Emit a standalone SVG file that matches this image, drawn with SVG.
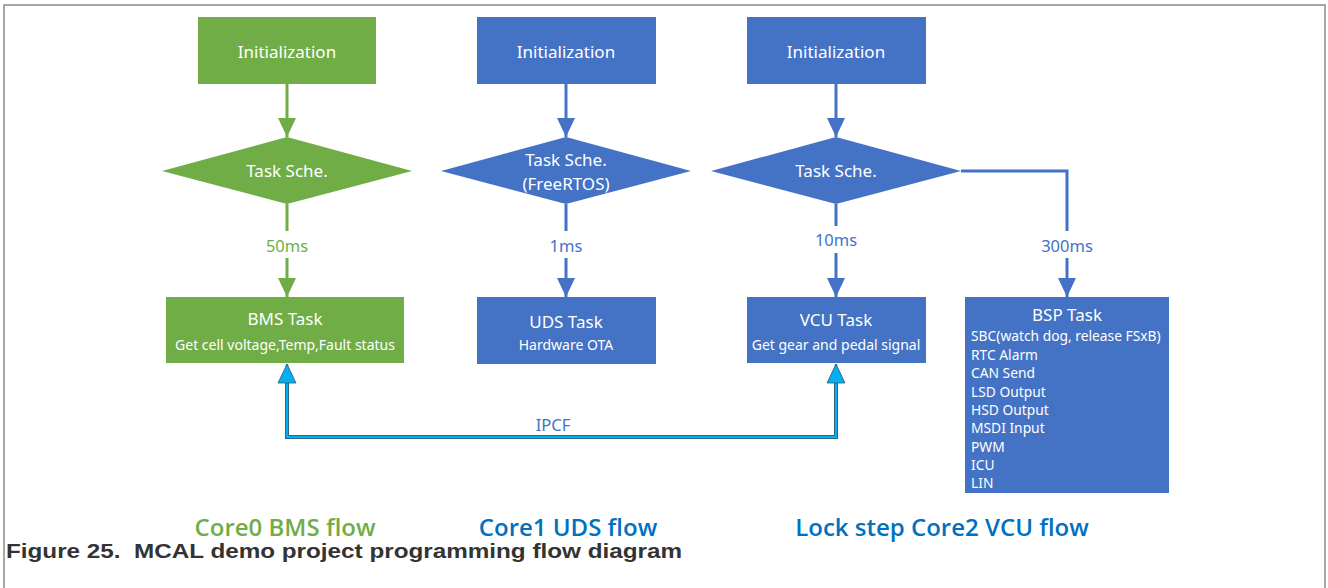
<svg xmlns="http://www.w3.org/2000/svg" width="1328" height="588" viewBox="0 0 1328 588">
<defs>
<style>
.t{font-family:"Noto Sans","Open Sans",sans-serif;fill:#fff;text-anchor:middle}
.big{font-size:17px}
.sm{font-size:14px}
.lbl{font-family:"Noto Sans","Open Sans",sans-serif;font-size:16.5px;text-anchor:middle}
.g{fill:#70AD47}
.b{fill:#4472C4}
.gs{stroke:#70AD47;stroke-width:3;fill:none}
.bs{stroke:#4472C4;stroke-width:3;fill:none}
.flow{font-family:"Open Sans","Noto Sans",sans-serif;font-size:24px;font-weight:600;text-anchor:middle}
</style>
<marker id="ag" viewBox="0 0 19 18" markerWidth="19" markerHeight="18" refX="19" refY="9" orient="auto" markerUnits="userSpaceOnUse"><path d="M0,0 L19,9 L0,18 z" fill="#70AD47"/></marker>
<marker id="ab" viewBox="0 0 19 18" markerWidth="19" markerHeight="18" refX="19" refY="9" orient="auto" markerUnits="userSpaceOnUse"><path d="M0,0 L19,9 L0,18 z" fill="#4472C4"/></marker>
<marker id="ac" viewBox="-1 -1 21 20" markerWidth="21" markerHeight="20" refX="19" refY="9" orient="auto-start-reverse" markerUnits="userSpaceOnUse"><path d="M0,0 L19,9 L0,18 z" fill="#00B0F0" stroke="#3a5566" stroke-width="0.8"/></marker>
</defs>
<rect x="4" y="5" width="1321" height="620" fill="#fff" stroke="#8a8a8a" stroke-width="1.5"/>

<g id="connectors">
<path class="gs" d="M287,84 V137" marker-end="url(#ag)"/>
<path class="gs" d="M287,204 V231 M287,258 V297" marker-end="url(#ag)"/>
<path class="bs" d="M566,84 V137" marker-end="url(#ab)"/>
<path class="bs" d="M566,204 V231 M566,258 V297" marker-end="url(#ab)"/>
<path class="bs" d="M836,84 V137" marker-end="url(#ab)"/>
<path class="bs" d="M836,204 V226 M836,253 V297" marker-end="url(#ab)"/>
<path class="bs" d="M961,171 H1067 V231 M1067,258 V297" marker-end="url(#ab)"/>
<path d="M287,383 V437 H836 V383" fill="none" stroke="#3a5566" stroke-width="4"/>
<path d="M287,364 V437 H836 V364" fill="none" stroke="#00B0F0" stroke-width="2.4" marker-start="url(#ac)" marker-end="url(#ac)"/>
<text class="lbl g" x="287" y="252">50ms</text>
<text class="lbl b" x="566" y="252">1ms</text>
<text class="lbl b" x="836" y="246">10ms</text>
<text class="lbl b" x="1067" y="252">300ms</text>
<text class="lbl b" x="553" y="431">IPCF</text>
</g>

<g id="init0"><rect x="198" y="17" width="178" height="67" class="g"/><text class="t big" x="287" y="58">Initialization</text></g>
<g id="sched0"><polygon points="162,171 287,137 412,171 287,204" class="g"/><text class="t big" x="287" y="177">Task Sche.</text></g>
<g id="bms"><rect x="166" y="297" width="238" height="66" class="g"/><text class="t big" x="285" y="325">BMS Task</text><text class="t sm" x="285" y="350">Get cell voltage,Temp,Fault status</text></g>

<g id="init1"><rect x="477" y="17" width="179" height="67" class="b"/><text class="t big" x="566" y="58">Initialization</text></g>
<g id="sched1"><polygon points="441,171 566,137 691,171 566,204" class="b"/><text class="t big" x="566" y="166">Task Sche.</text><text class="t big" x="566" y="190">(FreeRTOS)</text></g>
<g id="uds"><rect x="477" y="297" width="179" height="67" class="b"/><text class="t big" x="566" y="328">UDS Task</text><text class="t sm" x="566" y="350">Hardware OTA</text></g>

<g id="init2"><rect x="747" y="17" width="179" height="67" class="b"/><text class="t big" x="836" y="58">Initialization</text></g>
<g id="sched2"><polygon points="711,171 836,137 961,171 836,204" class="b"/><text class="t big" x="836" y="177">Task Sche.</text></g>
<g id="vcu"><rect x="747" y="297" width="179" height="66" class="b"/><text class="t big" x="836" y="326">VCU Task</text><text class="t sm" x="836" y="350">Get gear and pedal signal</text></g>

<g id="bsp"><rect x="965" y="297" width="204" height="196" class="b"/>
<text class="t big" x="1067" y="321">BSP Task</text>
<g style="font-family:'Noto Sans','Open Sans',sans-serif;font-size:13.8px;fill:#fff">
<text x="971" y="341">SBC(watch dog, release FSxB)</text>
<text x="971" y="360">RTC Alarm</text>
<text x="971" y="378">CAN Send</text>
<text x="971" y="397">LSD Output</text>
<text x="971" y="415">HSD Output</text>
<text x="971" y="433">MSDI Input</text>
<text x="971" y="452">PWM</text>
<text x="971" y="470">ICU</text>
<text x="971" y="488">LIN</text>
</g></g>

<g id="titles">
<text class="flow" x="285" y="536" fill="#70AD47">Core0 BMS flow</text>
<text class="flow" x="568" y="536" fill="#0070C0">Core1 UDS flow</text>
<text class="flow" x="942" y="536" fill="#0070C0">Lock step Core2 VCU flow</text>
<text x="6" y="558" style="font-family:'Liberation Sans',Arial,sans-serif;font-size:20px;font-weight:bold;fill:#333;white-space:pre" textLength="676" lengthAdjust="spacingAndGlyphs">Figure 25.  MCAL demo project programming flow diagram</text>
</g>
</svg>
